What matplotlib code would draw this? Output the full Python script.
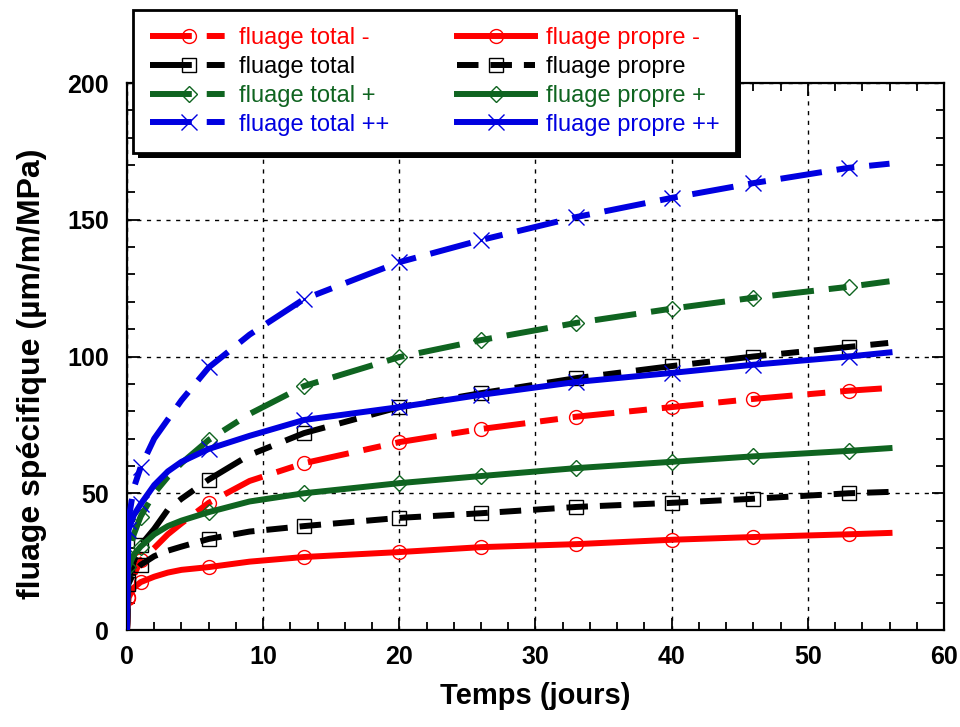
import matplotlib
matplotlib.use('Agg')
import matplotlib.pyplot as plt
from matplotlib.patches import Rectangle
from matplotlib.ticker import MultipleLocator

# Temps (jours)
temps = [0, 0.1, 0.5, 1, 2, 3, 4, 6, 9, 13, 20, 26, 33, 40, 46, 53, 56]

# fluage total
total_m = [0, 12, 20, 25.5, 30, 35, 39, 46.5, 54.5, 61, 68.7, 73.5, 78, 81.5, 84.5, 87.5, 88.5]
total_0 = [0, 18, 25, 31, 37, 44, 48, 55, 64, 72, 81.5, 86.6, 92.1, 96.5, 100, 103.5, 105]
total_p = [0, 27, 35, 41.5, 50, 56, 61, 69.5, 79, 89.2, 99.8, 106, 112.3, 117.5, 121.5, 125.5, 127.5]
total_pp = [0, 40, 52, 59.5, 70, 77, 84, 96, 108, 121, 134.5, 142.6, 151, 158, 163.4, 169, 170.5]

# fluage propre
propre_m = [0, 11.7, 15.5, 17.5, 19.5, 21, 22, 23, 25, 26.7, 28.5, 30.3, 31.4, 33, 34, 35, 35.5]
propre_0 = [0, 16.8, 21, 23.8, 27, 29, 30.5, 33.3, 36, 38, 41, 42.7, 45, 46.5, 48, 50, 50.5]
propre_p = [0, 23, 27.5, 30.5, 35, 38, 40, 43.1, 47, 50, 53.7, 56.3, 59.2, 61.5, 63.5, 65.5, 66.5]
propre_pp = [0, 36.5, 42, 46, 53, 58, 61.5, 66.2, 71, 76.8, 81.5, 86, 90.7, 94, 97, 100, 101.5]

labels_total = ['fluage total -', 'fluage total', 'fluage total +', 'fluage total ++']
labels_propre = ['fluage propre -', 'fluage propre', 'fluage propre +', 'fluage propre ++']

RED = '#ff0000'
BLACK = '#000000'
GREEN = '#0f6420'
BLUE = '#0000e0'
colors = [RED, BLACK, GREEN, BLUE]
markers = ['o', 's', 'D', 'x']
msizes = [10, 10, 8.5, 11]

# indices where symbols are drawn
mark_idx = [1, 3, 7, 9, 10, 11, 12, 13, 14, 15]

plt.rcParams['font.family'] = ['Liberation Sans', 'DejaVu Sans']

fig = plt.figure(figsize=(9.6, 7.27), dpi=100)
ax = fig.add_axes([0.1323, 0.1334, 0.8510, 0.7524])

LW = 4.3
dash_total = (0, (7, 2.5, 3, 2.5))
dash_propre = (0, (3.6, 2))

handles_total = []
handles_propre = []
for y, lab, c, m, ms in zip([total_m, total_0, total_p, total_pp], labels_total, colors, markers, msizes):
    h, = ax.plot(temps, y, color=c, lw=LW, linestyle=dash_total, dash_capstyle='butt',
                 marker=m, markevery=mark_idx, markersize=ms, markerfacecolor='none',
                 markeredgecolor=c, markeredgewidth=1.0, label=lab, zorder=3)
    handles_total.append(h)

for y, lab, c, m, ms in zip([propre_m, propre_0, propre_p, propre_pp], labels_propre, colors, markers, msizes):
    ls = dash_propre if c == BLACK else '-'
    h, = ax.plot(temps, y, color=c, lw=LW, linestyle=ls, dash_capstyle='butt',
                 marker=m, markevery=mark_idx, markersize=ms, markerfacecolor='none',
                 markeredgecolor=c, markeredgewidth=1.0, label=lab, zorder=3)
    handles_propre.append(h)

ax.set_xlim(0, 60)
ax.set_ylim(0, 200)
ax.xaxis.set_major_locator(MultipleLocator(10))
ax.xaxis.set_minor_locator(MultipleLocator(2))
ax.yaxis.set_major_locator(MultipleLocator(50))
ax.yaxis.set_minor_locator(MultipleLocator(10))
ax.tick_params(which='both', direction='in', top=True, right=True, width=1.3)
ax.tick_params(which='major', length=9)
ax.tick_params(which='minor', length=6)
ax.tick_params(axis='x', which='major', pad=11)
ax.tick_params(axis='y', which='major', pad=13)
for lab in ax.get_xticklabels() + ax.get_yticklabels():
    lab.set_fontsize(18)
    lab.set_fontweight('bold')

for s in ax.spines.values():
    s.set_linewidth(1.6)

ax.grid(True, which='major', color='black', linestyle=(0, (3, 4)), linewidth=1.0, zorder=1)

ax.set_xlabel('Temps (jours)', fontsize=21, fontweight='bold')
ax.set_ylabel('fluage spécifique (µm/m/MPa)', fontsize=23, fontweight='bold')
ax.xaxis.set_label_coords(0.5, -0.095)
ax.yaxis.set_label_coords(-0.098, 0.468)

leg = fig.legend(handles_total + handles_propre, labels_total + labels_propre,
                 ncol=2, loc='upper left', bbox_to_anchor=(0.1385, 0.986),
                 bbox_transform=fig.transFigure, fontsize=17, numpoints=1,
                 handlelength=3.3, handletextpad=0.45, columnspacing=2.9,
                 labelspacing=0.29, borderpad=0.72, borderaxespad=0,
                 fancybox=False, shadow=False, framealpha=1.0,
                 edgecolor='black')
leg.get_frame().set_linewidth(2.0)
leg.set_zorder(6)
for txt, c in zip(leg.get_texts(), colors + colors):
    txt.set_color(c)

# black drop shadow behind the legend box
fig.canvas.draw()
bb = leg.get_window_extent()
fig.add_artist(Rectangle((bb.x0 + 5, bb.y0 - 5), bb.width, bb.height,
                         transform=None, facecolor='black', edgecolor='none', zorder=5))

fig.savefig('out.png', dpi=100)
